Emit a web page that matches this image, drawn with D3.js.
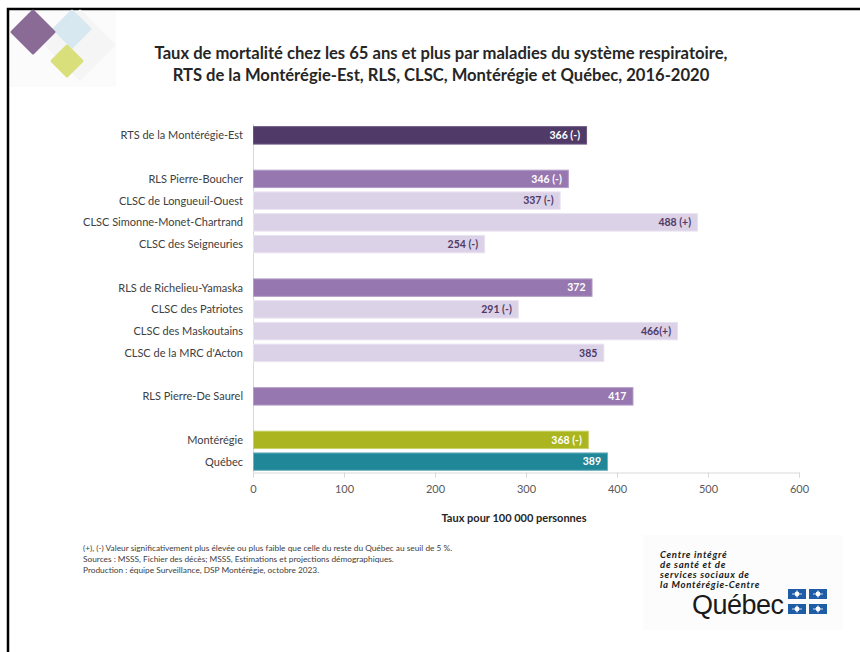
<!DOCTYPE html>
<html><head><meta charset="utf-8">
<script src="https://cdn.jsdelivr.net/npm/d3@7"></script>
<style>
html,body{margin:0;padding:0;background:#fff;}
svg{display:block;font-family:Lato,"Open Sans",sans-serif;}
</style></head>
<body>
<svg id="c" width="860" height="652"></svg>
<script>
// ---- data ----
const titleLines = [
  "Taux de mortalité chez les 65 ans et plus par maladies du système respiratoire,",
  "RTS de la Montérégie-Est, RLS, CLSC, Montérégie et Québec, 2016-2020"
];
const categories = [
  "RTS de la Montérégie-Est", null,
  "RLS Pierre-Boucher", "CLSC de Longueuil-Ouest", "CLSC Simonne-Monet-Chartrand", "CLSC des Seigneuries", null,
  "RLS de Richelieu-Yamaska", "CLSC des Patriotes", "CLSC des Maskoutains", "CLSC de la MRC d'Acton", null,
  "RLS Pierre-De Saurel", null,
  "Montérégie", "Québec"
];
const values = [366, null, 346, 337, 488, 254, null, 372, 291, 466, 385, null, 417, null, 368, 389];
const valueLabels = ["366 (-)", null, "346 (-)", "337 (-)", "488 (+)", "254 (-)", null, "372", "291 (-)", "466(+)", "385", null, "417", null, "368 (-)", "389"];
const levels = ["RTS", null, "RLS", "CLSC", "CLSC", "CLSC", null, "RLS", "CLSC", "CLSC", "CLSC", null, "RLS", null, "MTG", "QC"];
const xTicks = [0, 100, 200, 300, 400, 500, 600];
const axisTitle = "Taux pour 100 000 personnes";
const notes = [
  "(+), (-) Valeur significativement plus élevée ou plus faible que celle du reste du Québec au seuil de 5 %.",
  "Sources : MSSS, Fichier des décès; MSSS, Estimations et projections démographiques.",
  "Production : équipe Surveillance, DSP Montérégie, octobre 2023."
];
const logoLines = ["Centre intégré", "de santé et de", "services sociaux de", "la Montérégie-Centre"];

const fill = {RTS:"#503a67", RLS:"#9677b0", CLSC:"#dcd2e7", MTG:"#abb51f", QC:"#1f8797"};
const stroke = {RTS:"#6a5580", RLS:"#b29cc6", CLSC:"#e9e2f0", MTG:"#c9d06a", QC:"#6fb3bd"};
const labelColor = {RTS:"#ffffff", RLS:"#ffffff", CLSC:"#4f3a66", MTG:"#ffffff", QC:"#ffffff"};

// ---- drawing ----
const svg = d3.select("#c");

// frame
svg.append("rect").attr("x",8).attr("y",9).attr("width",870).attr("height",670)
  .attr("fill","none").attr("stroke","#000").attr("stroke-width",2.5);

// top-left logo
const lg = svg.append("g");
lg.append("rect").attr("x",10).attr("y",11).attr("width",106).attr("height",76).attr("fill","#fbfbfb");
function diamond(cx, cy, r, col){
  lg.append("path").attr("d",`M${cx},${cy-r}L${cx+r},${cy}L${cx},${cy+r}L${cx-r},${cy}Z`)
    .attr("fill",col).attr("stroke",col).attr("stroke-linejoin","round").attr("stroke-width",3);
}
diamond(80, 45, 34, "#f5f5f6");
diamond(72, 29, 18, "#d8e8f0");
diamond(67, 61, 15, "#d9df7a");
diamond(33, 32, 21, "#8a6b96");

// title
svg.append("g").selectAll("text").data(titleLines).join("text")
  .attr("x",441).attr("y",(d,i)=>59+i*22).attr("text-anchor","middle")
  .attr("font-size",16.6).attr("font-weight","bold").attr("fill","#262626").text(d=>d);

// scales
const idx = d3.range(categories.length);
const x = d3.scaleLinear().domain([0,600]).range([253,799]);
const y = d3.scaleBand().domain(idx).range([124.5,472.5]).paddingInner(0.2).paddingOuter(0.1);

// axis
const ax = svg.append("g").attr("transform","translate(0,472.5)")
  .call(d3.axisBottom(x).tickValues(xTicks).tickSize(5).tickPadding(8).tickFormat(d3.format("d")));
ax.select(".domain").attr("stroke","#d9d9d9");
ax.selectAll(".tick line").attr("stroke","#d9d9d9");
ax.selectAll(".tick text").attr("font-size",11).attr("fill","#595959").attr("font-family","Lato,sans-serif");
svg.append("line").attr("x1",x(0)+0.5).attr("x2",x(0)+0.5).attr("y1",124).attr("y2",472.5).attr("stroke","#d9d9d9");

svg.append("text").attr("x",514).attr("y",522).attr("text-anchor","middle")
  .attr("font-size",11).attr("font-weight","bold").attr("fill","#262626").text(axisTitle);

// bars
const rows = idx.filter(i => values[i] !== null);
svg.append("g").selectAll("rect").data(rows).join("rect")
  .attr("x",x(0)+0.5).attr("y",i=>y(i)).attr("width",i=>x(values[i])-x(0)).attr("height",y.bandwidth())
  .attr("fill",i=>fill[levels[i]]).attr("stroke",i=>stroke[levels[i]]).attr("stroke-width",1);

svg.append("g").selectAll("text").data(rows).join("text")
  .attr("x",i=>x(values[i])-6).attr("y",i=>y(i)+y.bandwidth()/2).attr("dy","0.36em")
  .attr("text-anchor","end").attr("font-size",10.5).attr("font-weight","bold")
  .attr("fill",i=>labelColor[levels[i]]).text(i=>valueLabels[i]);

// category labels
svg.append("g").selectAll("text").data(rows).join("text")
  .attr("x",243).attr("y",i=>y(i)+y.bandwidth()/2).attr("dy","0.36em")
  .attr("text-anchor","end").attr("font-size",11).attr("fill","#404040").text(i=>categories[i]);

// notes
svg.append("g").selectAll("text").data(notes).join("text")
  .attr("x",83).attr("y",(d,i)=>551+i*11).attr("font-size",8.3).attr("fill","#404040").text(d=>d);

// bottom-right logo
const bl = svg.append("g");
bl.append("rect").attr("x",643).attr("y",535).attr("width",200).attr("height",95).attr("fill","#fcfcfc");
bl.selectAll("text.l").data(logoLines).join("text").attr("class","l")
  .attr("x",660).attr("y",(d,i)=>558+i*10).attr("font-size",9.6).attr("font-weight","bold")
  .attr("letter-spacing",0.7).attr("font-style","italic").attr("fill","#1a1a1a").text(d=>d);
bl.append("text").attr("x",692).attr("y",614).attr("font-size",27).attr("fill","#1a1a1a")
  .attr("font-family","'Liberation Sans',Arial,sans-serif").attr("letter-spacing",-0.5).text("Québec");
const flags = [[788,589],[809,589],[788,604],[809,604]];
flags.forEach(([fx,fy])=>{
  bl.append("rect").attr("x",fx).attr("y",fy).attr("width",18).attr("height",10).attr("fill","#1f5ca6");
  bl.append("circle").attr("cx",fx+9).attr("cy",fy+5).attr("r",2.4).attr("fill","#fff");
  bl.append("line").attr("x1",fx+9).attr("x2",fx+9).attr("y1",fy+1.5).attr("y2",fy+8.5).attr("stroke","#fff").attr("stroke-width",1);
  bl.append("line").attr("x1",fx+4).attr("x2",fx+14).attr("y1",fy+5).attr("y2",fy+5).attr("stroke","#fff").attr("stroke-width",0.8);
});
</script>
</body></html>
